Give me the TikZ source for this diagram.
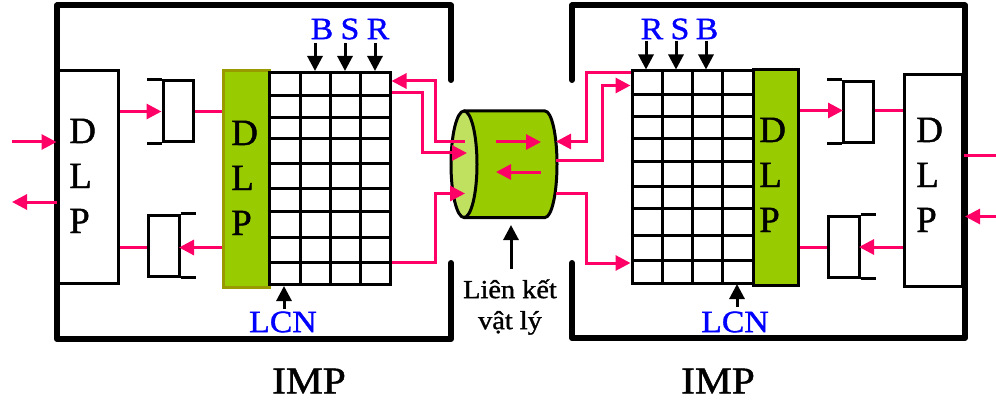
\documentclass[tikz,border=0pt]{standalone}
\usepackage{fontspec}
\setmainfont[FakeBold=1.2]{Liberation Serif}
\newfontfamily\wideserif[FakeBold=1.2,FakeStretch=1.09]{Liberation Serif}
\usepackage{tikz}
\usetikzlibrary{arrows.meta, positioning}
\definecolor{linkpink}{HTML}{FF0066}
\definecolor{dlpgreen}{HTML}{99CC00}
\definecolor{dlpedge}{HTML}{999900}
\definecolor{linklight}{HTML}{C0E060}
\tikzset{
    wall/.style={line width=6pt, line join=round, line cap=round},
    plainbox/.style={draw, line width=3pt, inner sep=0pt},
    greenbox/.style={plainbox, fill=dlpgreen},
    thinline/.style={line width=3pt},
    pinkline/.style={line width=3pt, linkpink},
    pinkarrow/.style={pinkline, -{Triangle[length=15pt,width=15pt]}},
    blackarrow/.style={line width=3pt, -{Triangle[length=15pt,width=15pt]}},
    dlptext/.style={align=left, inner sep=0pt, font=\fontsize{37}{45}\selectfont},
    tagtext/.style={text=blue, inner sep=0pt, font=\wideserif\fontsize{31}{31}\selectfont},
    imptext/.style={inner sep=0pt, font=\wideserif\fontsize{38}{38}\selectfont}
}
\begin{document}
\begin{tikzpicture}[x=1pt,y=-1pt]
    \path[use as bounding box,clip] (0,0) rectangle (996,401);

    % Left IMP
    \draw[wall] (451,80) -- (451,5.5) -- (57,5.5) -- (57,339) -- (451,339) -- (451,263);
    \node[plainbox, minimum width=60, minimum height=212] (dlpA) at (88,177) {};
    \node[greenbox, draw=dlpedge, minimum width=46, minimum height=216] (greenA) at (246,179) {};
    \node[plainbox, minimum width=121, minimum height=212] (gridA) at (329.5,178.5) {};
    \foreach \y in {96,118,139,164,188,211,237,262}
        \draw[thinline] (gridA.west |- 0,\y) -- (gridA.east |- 0,\y);
    \foreach \x in {300,330,360}
        \draw[thinline] (\x,0 |- gridA.north) -- (\x,0 |- gridA.south);
    \node[dlptext, anchor=base west] (dlpAtext) at (69,233) {D\\L\\P};
    \node[dlptext, anchor=base west] (greenAtext) at (231,235) {D\\L\\P};

    % Left queues
    \node[plainbox, minimum width=30, minimum height=61] (queueA) at (178,111.5) {};
    \draw[thinline] (queueA.north west) -- ++(-15,0);
    \draw[thinline] (queueA.south west) -- ++(-15,0);
    \node[plainbox, minimum width=31, minimum height=61] (queueB) at (163.5,245.5) {};
    \draw[thinline] (queueB.north east) -- ++(15,0);
    \draw[thinline] (queueB.south east) -- ++(15,0);
    \coordinate (queueBin) at (179,247.5);
    \draw[pinkarrow] (dlpA.east |- queueA.west) -- (queueA.west);
    \draw[pinkline] (queueA.east) -- (queueA.east -| greenA.west);
    \draw[pinkarrow] (greenA.west |- queueBin) -- (queueBin);
    \draw[pinkline] (queueB.west |- queueBin) -- (dlpA.east |- queueBin);
    \coordinate (inA) at (12,142);
    \coordinate (outA) at (12,202);
    \draw[pinkarrow] (inA) -- (inA -| dlpA.west);
    \draw[pinkarrow] (outA -| dlpA.west) -- (outA);

    % Left labels
    \node[tagtext] (tagB) at (322,29) {B};
    \node[tagtext] (tagS) at (350,29) {S};
    \node[tagtext] (tagR) at (378,29) {R};
    \node[tagtext] (tagLCN) at (283,322) {LCN};
    \foreach \x in {315,345,375}
        \draw[blackarrow] (\x,43) -- (\x,0 |- gridA.north);
    \draw[blackarrow] (284,309) -- (284,286);
    \node[imptext] (impA) at (309,381) {IMP};

    % Physical link
    \fill[dlpgreen] (464,111) -- (545,111) arc[start angle=-90,end angle=90,x radius=12,y radius=53.25] -- (464,217.5) -- cycle;
    \draw[thinline] (464,111) -- (545,111) arc[start angle=-90,end angle=90,x radius=12,y radius=53.25] -- (464,217.5);
    \draw[thinline, fill=linklight] (464,164.25) ellipse[x radius=13, y radius=53.25];
    \coordinate (linkA) at (465,142);
    \coordinate (linkB) at (467,153);
    \coordinate (linkC) at (465,193.5);
    \coordinate (linkD) at (556,141.5);
    \coordinate (linkE) at (556,161);
    \coordinate (linkF) at (556,193);
    \coordinate (linkTip) at (511,225);
    \draw[pinkarrow] (496,142) -- (541,142);
    \draw[pinkarrow] (541,172) -- (496,172);
    \node[inner sep=0pt, align=center, font=\wideserif\fontsize{26}{31}\selectfont] (linkText) at (510,307) {Liên kết\\vật lý};
    \draw[blackarrow] (511,269) -- (linkTip);

    % Left grid to link
    \draw[pinkarrow] (linkA) -- (435,142) -- (435,81) -- (gridA.east |- 0,81);
    \draw[pinkarrow] (gridA.east |- 0,92.5) -- (422,92.5) -- (422,153) -- (linkB);
    \draw[pinkarrow] (gridA.east |- 0,262.5) -- (435,262.5) -- (435,193.5) -- (linkC);

    % Right IMP
    \draw[wall] (572,80) -- (572,5.5) -- (965,5.5) -- (965,338) -- (572,338) -- (572,263);
    \node[plainbox, minimum width=58, minimum height=211] (dlpB) at (933,180.5) {};
    \node[greenbox, minimum width=45.5, minimum height=215.5] (greenB) at (775.75,177.75) {};
    \node[plainbox, minimum width=121, minimum height=212] (gridB) at (692.5,177) {};
    \foreach \y in {95,116.7,139,162,186,208,235,260}
        \draw[thinline] (gridB.west |- 0,\y) -- (gridB.east |- 0,\y);
    \foreach \x in {662.7,692.5,722.7}
        \draw[thinline] (\x,0 |- gridB.north) -- (\x,0 |- gridB.south);
    \node[dlptext, anchor=base west] (greenBtext) at (759,232) {D\\L\\P};
    \node[dlptext, anchor=base west] (dlpBtext) at (916,232) {D\\L\\P};

    % Right queues
    \node[plainbox, minimum width=30, minimum height=61] (queueC) at (858,112) {};
    \draw[thinline] (queueC.north west) -- ++(-15,0);
    \draw[thinline] (queueC.south west) -- ++(-15,0);
    \node[plainbox, minimum width=31, minimum height=61] (queueD) at (843.5,246.5) {};
    \draw[thinline] (queueD.north east) -- ++(15,0);
    \draw[thinline] (queueD.south east) -- ++(15,0);
    \coordinate (queueCin) at (843,110.5);
    \coordinate (queueDin) at (859,247);
    \draw[pinkarrow] (greenB.east |- queueCin) -- (queueCin);
    \draw[pinkline] (queueC.east |- queueCin) -- (dlpB.west |- queueCin);
    \draw[pinkarrow] (dlpB.west |- queueDin) -- (queueDin);
    \draw[pinkline] (queueD.west |- queueDin) -- (greenB.east |- queueDin);
    \coordinate (outB) at (1012,156);
    \coordinate (inB) at (1012,216.5);
    \draw[pinkarrow] (dlpB.east |- outB) -- (outB);
    \draw[pinkarrow] (inB) -- (965,216.5);

    % Right labels
    \node[tagtext] (tagRb) at (652,29) {R};
    \node[tagtext] (tagSb) at (680,29) {S};
    \node[tagtext] (tagBb) at (707,29) {B};
    \node[tagtext] (tagLCNb) at (735,322) {LCN};
    \foreach \x in {646,676,706}
        \draw[blackarrow] (\x,41) -- (\x,0 |- gridB.north);
    \draw[blackarrow] (737,307) -- (737,284);
    \node[imptext] (impB) at (718,381) {IMP};

    % Link to right grid
    \draw[pinkarrow] (gridB.west |- 0,73) -- (586,73) -- (586,141.5) -- (linkD);
    \draw[pinkarrow] (linkE) -- (602,161) -- (602,85.5) -- (gridB.west |- 0,85.5);
    \draw[pinkarrow] (linkF) -- (586,193) -- (586,263) -- (gridB.west |- 0,263);
\end{tikzpicture}
\end{document}
